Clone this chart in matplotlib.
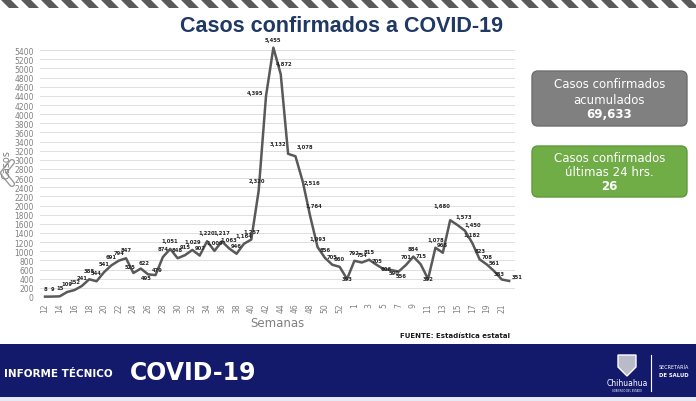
"""Casos confirmados a COVID-19 por semana epidemiológica (Chihuahua)."""

import matplotlib
matplotlib.use("Agg")
import matplotlib.pyplot as plt
from matplotlib.patches import FancyBboxPatch, Polygon, Rectangle

# --- data -------------------------------------------------------------
semanas = [str(w) for w in range(12, 54)] + [str(w) for w in range(1, 23)]
casos = [
    8, 9, 15, 109, 152, 241, 388, 344, 541, 691, 794, 847,
    525, 622, 495, 479, 874, 1051, 848, 915, 1029, 907, 1220, 1009,
    1217, 1063, 946, 1164, 1257, 2320, 4395, 5455, 4872, 3132, 3078, 2516,
    1764, 1093, 856, 705, 660, 393,
    792, 754, 815, 705, 606, 590, 556, 701, 884, 715, 392, 1078,
    968, 1680, 1573, 1450, 1182, 823, 708, 561, 383, 351,
]
acumulados = "69,633"
ultimas_24 = "26"
y_ticks = list(range(0, 5401, 200))

# label offsets in pixels (dx, dy) where default "above" looks wrong
label_offsets = {
    12: (-3, 4), 13: (3, 4), 14: (-2, -6), 15: (2, 3),
    29: (-2, 8), 30: (-11, 1), 32: (3, 8), 33: (-10, 8), 34: (10, 7),
    35: (9, -3), 36: (4, 8), 41: (0, -2), 45: (1, 2), 46: (2, -2),
    47: (3, -5), 48: (3, -6), 52: (0, -2),
    55: (-8, 12), 56: (6, 6), 57: (8, 4), 62: (-3, 3), 63: (8, 2),
}

LINE_COLOR = "#595959"
GRID_COLOR = "#d9d9d9"
TICK_COLOR = "#808080"
NAVY = "#141a6b"

fig = plt.figure(figsize=(6.96, 4.02), dpi=100)
fig.patch.set_facecolor("white")

# --- chart ------------------------------------------------------------
ax = fig.add_axes([40 / 696, 104 / 402, 475 / 696, 256 / 402])
x = list(range(len(casos)))
ax.plot(x, casos, color=LINE_COLOR, lw=1.8, clip_on=False, zorder=3)

for i, v in enumerate(casos):
    dx, dy = label_offsets.get(i, (0, 6))
    ax.annotate(f"{v:,}", (i, v), xytext=(dx, dy), textcoords="offset pixels",
                ha="center", va="bottom", fontsize=3.8, fontweight="bold",
                color="#262626", zorder=4, annotation_clip=False)

ax.set_xlim(-0.68, 63.8)
ax.set_ylim(0, 5600)
ax.set_yticks(y_ticks)
ax.set_yticklabels([str(t) for t in y_ticks])
ax.set_xticks(x[::2])
ax.set_xticklabels(semanas[::2], rotation=90)
ax.tick_params(axis="both", length=0, labelsize=5.5, labelcolor=TICK_COLOR)
ax.tick_params(axis="y", pad=4.5)
ax.tick_params(axis="x", pad=4)
ax.grid(axis="y", color=GRID_COLOR, lw=0.6)
ax.set_axisbelow(True)
for s in ax.spines.values():
    s.set_visible(False)
ax.set_xlabel("Semanas", fontsize=8.5, color=TICK_COLOR, labelpad=3)

# --- decoration overlay (pixel coords, y downward) ---------------------
ov = fig.add_axes([0, 0, 1, 1], zorder=5)
ov.set_xlim(0, 696)
ov.set_ylim(402, 0)
ov.axis("off")

# striped band at the top
for x0 in range(-20, 700, 20):
    ov.add_patch(Polygon([(x0, 0), (x0 + 10, 0), (x0 + 19, 9), (x0 + 9, 9)],
                         closed=True, color="#5a5a5a", lw=0))

ov.text(341, 27, "Casos confirmados a COVID-19", ha="center", va="center",
        fontsize=15.5, fontweight="bold", color="#1f3864",
        family=["Liberation Sans", "DejaVu Sans"])

# y label with chevron mark
ov.text(7, 165, "Casos", rotation=90, ha="center", va="center",
        fontsize=7, color=TICK_COLOR)
ov.plot([12, 3, 12], [163, 174, 185], color="#9a9a9a", lw=4.5, solid_capstyle="round")
ov.plot([12, 3, 12], [163, 174, 185], color="white", lw=2.5, solid_capstyle="round")

ov.text(455, 336, "FUENTE: Estadística estatal", ha="center", va="center",
        fontsize=5, fontweight="bold", color="#1a1a1a")

# summary boxes
ov.add_patch(FancyBboxPatch((532, 72), 155, 55, boxstyle="round,pad=0,rounding_size=6",
                            fc="#808080", ec="#6e6e6e", lw=1))
ov.text(609.5, 85, "Casos confirmados", ha="center", va="center", fontsize=8.5, color="white")
ov.text(609.5, 100, "acumulados", ha="center", va="center", fontsize=8.5, color="white")
ov.text(609.5, 115, acumulados, ha="center", va="center", fontsize=8.5,
        fontweight="bold", color="white")

ov.add_patch(FancyBboxPatch((532, 147), 155, 51, boxstyle="round,pad=0,rounding_size=6",
                            fc="#70ad47", ec="#5e9a3a", lw=1))
ov.text(609.5, 159, "Casos confirmados", ha="center", va="center", fontsize=8.5, color="white")
ov.text(609.5, 173, "últimas 24 hrs.", ha="center", va="center", fontsize=8.5, color="white")
ov.text(609.5, 187, ultimas_24, ha="center", va="center", fontsize=8.5,
        fontweight="bold", color="white")

# bottom banner
ov.add_patch(Rectangle((0, 345), 696, 53, color=NAVY, lw=0))
ov.add_patch(Rectangle((0, 398), 696, 4, color="#e6eaf4", lw=0))
ov.text(4, 374, "INFORME TÉCNICO", ha="left", va="center", fontsize=7.5,
        fontweight="bold", color="white")
ov.text(130, 373, "COVID-19", ha="left", va="center", fontsize=17,
        fontweight="heavy", color="white")

# shield logo and ministry text
ov.add_patch(Polygon([(618, 356), (636, 356), (636, 368), (627, 377), (618, 368)],
                     closed=True, fc="#b9bcc8", ec="white", lw=1))
ov.text(627, 384, "Chihuahua", ha="center", va="center", fontsize=5.5, color="white")
ov.text(627, 391, "GOBIERNO DEL ESTADO", ha="center", va="center", fontsize=1.8, color="white")
ov.plot([651, 651], [356, 392], color="white", lw=0.8)
ov.text(659, 368, "SECRETARÍA", ha="left", va="center", fontsize=3.5, color="white")
ov.text(659, 376, "DE SALUD", ha="left", va="center", fontsize=3.8,
        fontweight="bold", color="white")

fig.savefig("out.png", dpi=100)
